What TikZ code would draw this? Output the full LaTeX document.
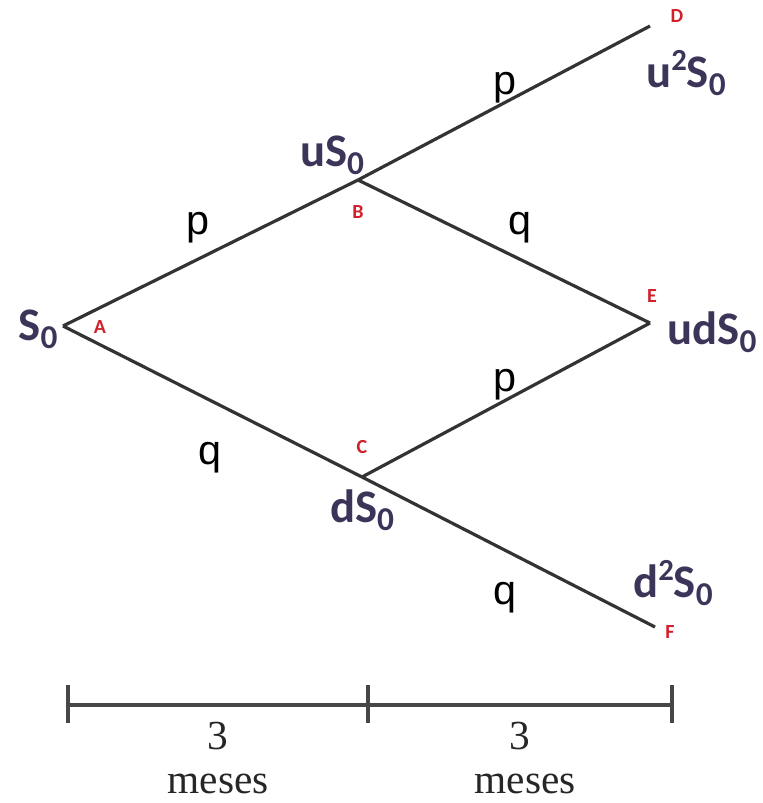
\documentclass[tikz,border=0pt]{standalone}
\usepackage{fontspec}
\setmainfont{Liberation Serif}
\newfontfamily\calfont{Carlito}
\newfontfamily\arialfont{Liberation Sans}
\definecolor{nodepurple}{HTML}{3D3559}
\definecolor{letterred}{HTML}{D0202A}
\definecolor{linegray}{HTML}{333333}
\newcommand\lowsub[1]{\raisebox{-0.35ex}{\fontsize{25}{25}\selectfont #1}}
\newcommand\highsup[1]{\raisebox{0.75ex}{\fontsize{23}{23}\selectfont #1}}
\begin{document}
\begin{tikzpicture}[x=0.75pt,y=-0.75pt,
  branch/.style={draw=linegray,line width=2.4pt},
  tline/.style={draw=linegray!90,line width=2.4pt},
  val/.style={text=nodepurple,font=\calfont\bfseries\fontsize{35}{38}\selectfont,inner sep=0pt},
  tag/.style={text=letterred,font=\calfont\bfseries\fontsize{15}{17}\selectfont,inner sep=0pt},
  prob/.style={text=black,font=\arialfont\fontsize{31}{36}\selectfont,inner sep=0pt},
  tlabel/.style={text=black!85,font=\fontsize{31}{34}\selectfont,inner sep=0pt}]
\useasboundingbox (0,0) rectangle (763,803);
% tree points
\coordinate (A) at (63,326);
\coordinate (B) at (358,180);
\coordinate (C) at (362,477);
\coordinate (D) at (650,26);
\coordinate (E) at (650,323);
\coordinate (F) at (655,627);
\draw[branch] (A) -- (B);
\draw[branch] (A) -- (C);
\draw[branch] (B) -- (D);
\draw[branch] (B) -- (E);
\draw[branch] (C) -- (E);
\draw[branch] (C) -- (F);
% value labels
\node[val] (vA) at (38,329) {S\lowsub{0}};
\node[val] (vB) at (332,155) {uS\lowsub{0}};
\node[val] (vD) at (686,73) {u\highsup{2}S\lowsub{0}};
\node[val] (vE) at (712,332) {udS\lowsub{0}};
\node[val] (vC) at (362,510) {dS\lowsub{0}};
\node[val] (vF) at (673,583) {d\highsup{2}S\lowsub{0}};
% letter tags
\node[tag] (tA) at (100,327) {A};
\node[tag] (tB) at (358,212) {B};
\node[tag] (tC) at (362,447) {C};
\node[tag] (tD) at (677,16) {D};
\node[tag] (tE) at (652,296) {E};
\node[tag] (tF) at (670,632) {F};
% probabilities
\node[prob] (p1) at (198,228) {p};
\node[prob] (q1) at (210,458) {q};
\node[prob] (p2) at (505,88) {p};
\node[prob] (q2) at (520,228) {q};
\node[prob] (p3) at (505,385) {p};
\node[prob] (q3) at (505,598) {q};
% timeline
\coordinate (T0) at (68,705);
\coordinate (T1) at (368,705);
\coordinate (T2) at (672,705);
\coordinate (T0a) at (68,685);
\coordinate (T0b) at (68,723);
\coordinate (T1a) at (368,685);
\coordinate (T1b) at (368,723);
\coordinate (T2a) at (672,685);
\coordinate (T2b) at (672,723);
\draw[tline] (T0) -- (T2);
\draw[tline] (T0a) -- (T0b);
\draw[tline] (T1a) -- (T1b);
\draw[tline] (T2a) -- (T2b);
\node[tlabel] (n1) at (218,736) {3};
\node[tlabel] (m1) at (218,784) {meses};
\node[tlabel] (n2) at (520,736) {3};
\node[tlabel] (m2) at (525,784) {meses};
\end{tikzpicture}
\end{document}
